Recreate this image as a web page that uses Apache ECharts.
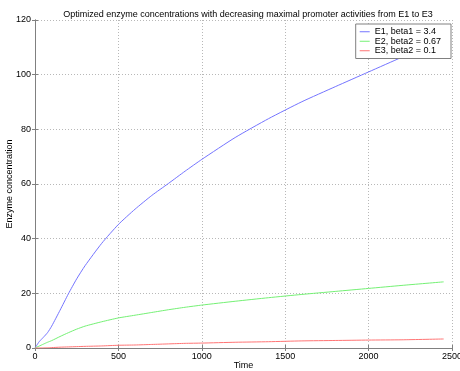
<!DOCTYPE html>
<html>
<head>
<meta charset="utf-8">
<script src="https://cdn.jsdelivr.net/npm/echarts@6/dist/echarts.min.js"></script>
<style>
  html, body { margin: 0; padding: 0; background: #fff; }
  #chart { width: 460px; height: 371px; }
</style>
</head>
<body>
<div id="chart"></div>
<script>
// Simulation time points
const times = [0, 25, 50, 75, 100, 150, 200, 250, 300, 400, 500, 600, 700, 800, 900, 1000, 1200, 1400, 1600, 1800, 2000, 2200, 2450];
// Enzyme concentrations per enzyme
const e1 = [0, 2.3, 3.9, 5.6, 8.0, 13.8, 19.8, 25.3, 30.1, 38.3, 45.2, 50.8, 55.8, 60.2, 64.7, 69.0, 77.0, 83.9, 90.1, 95.6, 101.0, 106.4, 113.0];
const e2 = [0, 0.7, 1.4, 2.1, 2.7, 4.2, 5.6, 6.9, 8.0, 9.6, 11.0, 12.0, 13.0, 14.0, 14.9, 15.7, 17.1, 18.4, 19.6, 20.7, 21.8, 22.9, 24.2];
const e3 = [0, 0, 0.05, 0.1, 0.15, 0.3, 0.4, 0.5, 0.6, 0.75, 1.0, 1.1, 1.3, 1.5, 1.7, 1.8, 2.1, 2.3, 2.6, 2.75, 2.9, 3.0, 3.3];
const seriesNames = ['E1, beta1 = 3.4', 'E2, beta2 = 0.67', 'E3, beta2 = 0.1'];
const seriesColors = ['#7474ff', '#74f074', '#ff7474'];
const xTicks = { min: 0, max: 2500, interval: 500 };
const yTicks = { min: 0, max: 120, interval: 20 };

const font = 'Liberation Sans, Arial, Helvetica, sans-serif';
const pair = (ys) => times.map((t, i) => [t, ys[i]]);

const chart = echarts.init(document.getElementById('chart'), null, { renderer: 'canvas' });

const gridLine = { show: true, lineStyle: { color: '#b8b8b8', type: [1, 2], width: 1 } };
const frame = { show: true, lineStyle: { color: '#808080', width: 1 } };
const tick = { show: true, inside: true, length: 3, lineStyle: { color: '#808080' } };

chart.setOption({
  animation: false,
  backgroundColor: '#ffffff',
  title: {
    text: 'Optimized enzyme concentrations with decreasing maximal promoter activities from E1 to E3',
    left: 243,
    top: 5,
    textAlign: 'center',
    textStyle: { fontFamily: font, fontSize: 9, fontWeight: 'normal', color: '#000' }
  },
  legend: {
    orient: 'vertical',
    right: 9,
    top: 24,
    padding: [3, 10, 3, 4],
    itemGap: 0,
    itemWidth: 10,
    itemHeight: 1,
    icon: 'rect',
    backgroundColor: '#ffffff',
    borderColor: '#808080',
    borderWidth: 1,
    borderRadius: 0,
    textStyle: { fontFamily: font, fontSize: 9, lineHeight: 9.5, color: '#000' },
    data: seriesNames
  },
  grid: { left: 35, right: 8, top: 20, bottom: 23, outerBoundsMode: 'none', containLabel: false },
  xAxis: [{
    type: 'value', min: xTicks.min, max: xTicks.max, interval: xTicks.interval,
    name: 'Time', nameLocation: 'middle', nameGap: 13, nameMoveOverlap: false,
    nameTextStyle: { fontFamily: font, fontSize: 9, color: '#000' },
    axisLine: frame,
    axisTick: tick,
    axisLabel: { fontFamily: font, fontSize: 9, color: '#000', margin: 4, formatter: (v) => String(v) },
    splitLine: gridLine
  }, {
    type: 'value', position: 'top', min: xTicks.min, max: xTicks.max, interval: xTicks.interval,
    axisLine: frame,
    axisTick: tick,
    axisLabel: { show: false },
    splitLine: { show: false }
  }],
  yAxis: [{
    type: 'value', min: yTicks.min, max: yTicks.max, interval: yTicks.interval,
    name: 'Enzyme concentration', nameLocation: 'middle', nameGap: 21, nameMoveOverlap: false,
    nameTextStyle: { fontFamily: font, fontSize: 9, color: '#000' },
    axisLine: frame,
    axisTick: tick,
    axisLabel: { fontFamily: font, fontSize: 9, color: '#000', margin: 4 },
    splitLine: gridLine
  }, {
    type: 'value', position: 'right', min: yTicks.min, max: yTicks.max, interval: yTicks.interval,
    axisLine: frame,
    axisTick: tick,
    axisLabel: { show: false },
    splitLine: { show: false }
  }],
  series: [e1, e2, e3].map((ys, i) => ({
    name: seriesNames[i],
    type: 'line',
    data: pair(ys),
    symbol: 'none',
    smooth: 0.2,
    color: seriesColors[i],
    lineStyle: { width: 1, color: seriesColors[i] }
  }))
});
</script>
</body>
</html>
